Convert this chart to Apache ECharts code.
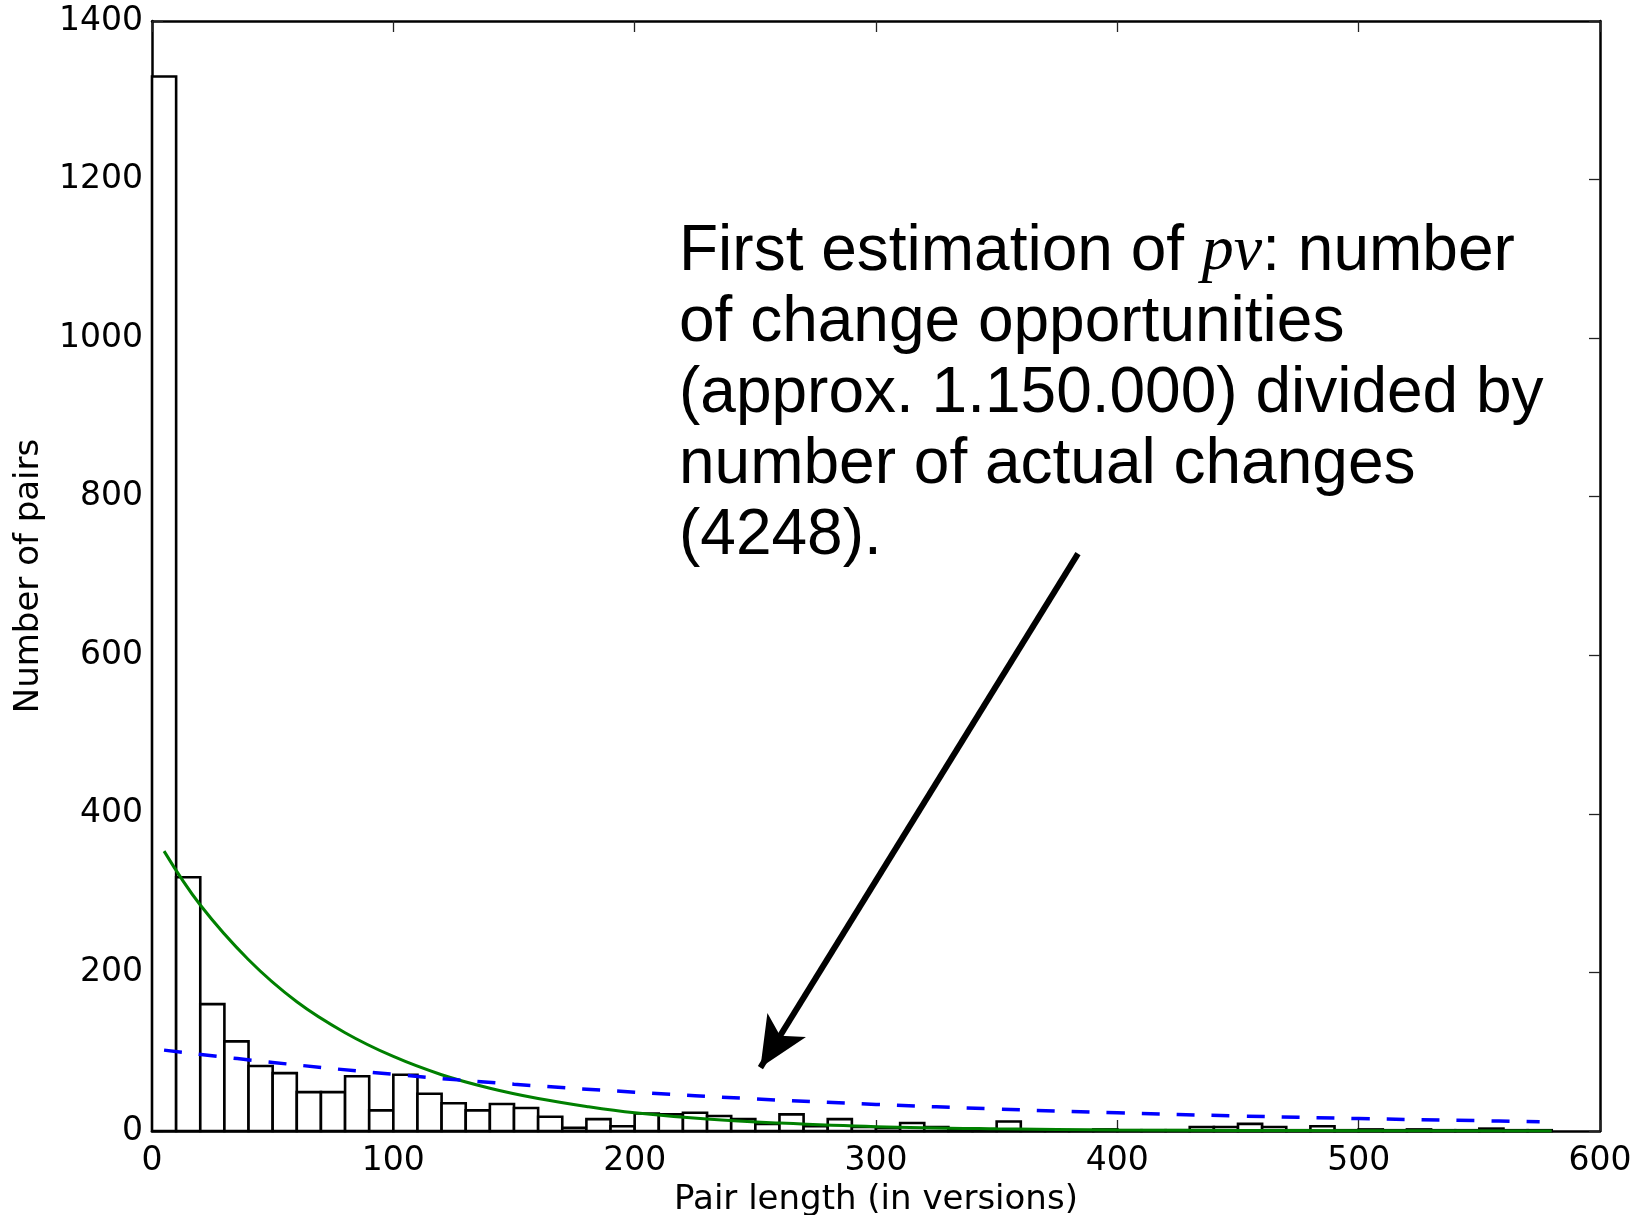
<!DOCTYPE html>
<html>
<head>
<meta charset="utf-8">
<style>
  html, body { margin: 0; padding: 0; background: #ffffff; }
  #chart { width: 1638px; height: 1215px; }
</style>
<script src="https://cdn.jsdelivr.net/npm/echarts@6/dist/echarts.min.js"></script>
</head>
<body>
<div id="chart"></div>
<script>
// ---- Data ----
const binStarts = [0,10,20,30,40,50,60,70,80,90,100,110,120,130,140,150,160,170,180,190,
  200,210,220,230,240,250,260,270,280,290,300,310,320,330,340,350,360,370,380,390,
  400,410,420,430,440,450,460,470,480,490,500,510,520,530,540,550,560,570];
const binWidth = 10;
const pairCounts = [1330,320,160,113,82,73,49,49,69,26,71,47,35,26,34,29,18,4,15,6,
  22,21,23,19,15,9,21,6,15,5,4,10,5,2,1,12,1,1,1,2,
  1,1,1,5,5,9,5,1,6,1,2,1,2,1,1,3,1,1];

// green fitted curve (readings)
const greenX = [5,20,40,60,80,100,120,140,160,180,200,230,260,300,350,400,450,500,580];
const greenY = [353,285,216,163,124,94,71,54,41,31,23,15,10,5.5,2.8,1.4,0.7,0.35,0.1];

// blue dashed curve (readings)
const blueX = [5,50,100,150,200,250,300,350,400,450,500,550,575];
const blueY = [102,86.5,71.5,59,49,40.5,33.5,27.7,22.9,19,15.7,13,11.8];

const xTicks = { min: 0, max: 600, interval: 100 };
const yTicks = { min: 0, max: 1400, interval: 200 };

const annotationText = 'First estimation of {i|pv}: number\nof change opportunities\n(approx. 1.150.000) divided by\nnumber of actual changes\n(4248).';
const arrowFrom = [383.7, 728.3];
const arrowTo = [252.1, 80];

// ---- Build ----
const histData = binStarts.map((s, i) => [s, s + binWidth, pairCounts[i]]);
const greenData = greenX.map((x, i) => [x, greenY[i]]);
const blueData = blueX.map((x, i) => [x, blueY[i]]);

const tickFont = { fontFamily: 'DejaVu Sans', fontSize: 33, color: '#000' };
const nameFont = { fontFamily: 'DejaVu Sans', fontSize: 34, color: '#000' };
const axisLineStyle = { show: true, onZero: false, lineStyle: { color: '#000', width: 2.5 } };
const tickStyle = { show: true, inside: true, length: 11, lineStyle: { color: '#222', width: 1.3 } };
const plain = v => String(v);

const chart = echarts.init(document.getElementById('chart'), null, { renderer: 'canvas' });
chart.setOption({
  animation: false,
  backgroundColor: '#ffffff',
  grid: { left: 152, top: 21, width: 1448, height: 1110, containLabel: false, outerBoundsMode: 'none' },
  xAxis: [
    {
      type: 'value', position: 'bottom', min: xTicks.min, max: xTicks.max, interval: xTicks.interval,
      axisLine: axisLineStyle, axisTick: tickStyle, splitLine: { show: false },
      axisLabel: Object.assign({ margin: 14, formatter: plain }, tickFont),
      name: 'Pair length (in versions)', nameLocation: 'middle', nameGap: 49,
      nameTextStyle: nameFont
    },
    {
      type: 'value', position: 'top', min: xTicks.min, max: xTicks.max, interval: xTicks.interval,
      axisLine: axisLineStyle, axisTick: tickStyle, splitLine: { show: false },
      axisLabel: { show: false }
    }
  ],
  yAxis: [
    {
      type: 'value', position: 'left', min: yTicks.min, max: yTicks.max, interval: yTicks.interval,
      axisLine: axisLineStyle, axisTick: tickStyle, splitLine: { show: false },
      axisLabel: Object.assign({ margin: 9, formatter: plain }, tickFont),
      name: 'Number of pairs', nameLocation: 'middle', nameGap: 106,
      nameTextStyle: nameFont
    },
    {
      type: 'value', position: 'right', min: yTicks.min, max: yTicks.max, interval: yTicks.interval,
      axisLine: axisLineStyle, axisTick: tickStyle, splitLine: { show: false },
      axisLabel: { show: false }
    }
  ],
  series: [
    {
      type: 'custom',
      xAxisIndex: 0, yAxisIndex: 0,
      data: histData,
      encode: { x: [0, 1], y: 2 },
      renderItem: function (params, api) {
        const p0 = api.coord([api.value(0), api.value(2)]);
        const p1 = api.coord([api.value(1), 0]);
        return {
          type: 'rect',
          shape: { x: p0[0], y: p0[1], width: p1[0] - p0[0], height: p1[1] - p0[1] },
          style: { fill: '#ffffff', stroke: '#000000', lineWidth: 2.6 }
        };
      },
      z: 2
    },
    {
      type: 'line', data: greenData, smooth: 0.4, showSymbol: false,
      lineStyle: { color: '#008000', width: 3 }, z: 3,
      markLine: {
        silent: true, animation: false,
        symbol: ['none', 'arrow'], symbolSize: [34, 50],
        label: { show: false },
        lineStyle: { color: '#000', width: 6, type: 'solid' },
        data: [[{ coord: arrowFrom }, { coord: arrowTo }]]
      }
    },
    {
      type: 'line', data: blueData, smooth: 0.4, showSymbol: false,
      lineStyle: { color: '#0000ff', width: 3.5, type: [18, 17] }, z: 4
    }
  ],
  graphic: [
    {
      type: 'text', left: 679, top: 217, z: 10,
      style: {
        text: annotationText,
        fontFamily: 'Liberation Sans', fontSize: 64, lineHeight: 71, fill: '#000',
        rich: {
          i: { fontFamily: 'Liberation Serif', fontStyle: 'italic', fontSize: 64, lineHeight: 71, fill: '#000' }
        }
      }
    }
  ]
});
</script>
</body>
</html>
